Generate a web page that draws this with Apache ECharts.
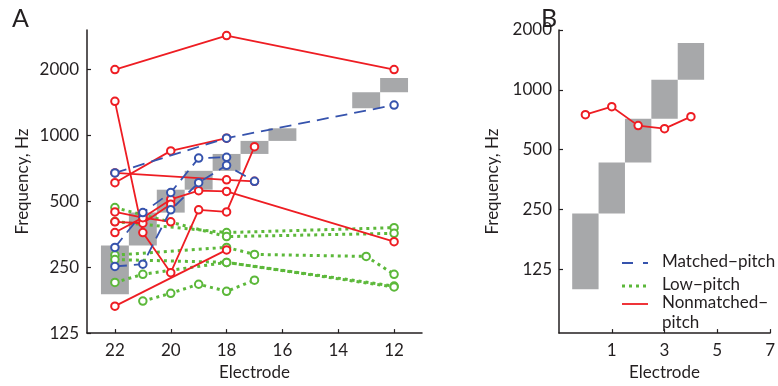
<!DOCTYPE html>
<html>
<head>
<meta charset="utf-8">
<script src="https://cdn.jsdelivr.net/npm/echarts@6/dist/echarts.min.js"></script>
<style>
  html, body { margin: 0; padding: 0; background: #fff; }
  #chart { width: 778px; height: 386px; }
</style>
</head>
<body>
<div id="chart"></div>
<script>
// Panel A: frequency band of each electrode (Hz)
const bandElectrodesA = [22, 21, 20, 19, 18, 17, 16, 13, 12];
const bandLowA  = [188, 314, 444, 565, 689, 823, 944, 1331, 1575];
const bandHighA = [314, 444, 565, 689, 823, 944, 1078, 1575, 1830];

// one entry per subject: [electrode, Hz]
const matchedPitch = [
  [[22, 674], [18, 972], [12, 1376]],
  [[22, 308], [21, 444], [20, 548], [19, 788], [18, 795]],
  [[22, 252], [21, 258], [20, 457], [19, 608], [18, 730], [17, 617]]
];
const lowPitch = [
  [[22, 404], [18, 360], [12, 379]],
  [[22, 468], [18, 345], [12, 357]],
  [[22, 284], [18, 308], [17, 286], [13, 280], [12, 232]],
  [[22, 271], [18, 263], [12, 205]],
  [[21, 175], [20, 190], [19, 209], [18, 194], [17, 218]],
  [[22, 213], [21, 232], [18, 263], [12, 203]]
];
const nonmatchedPitch = [
  [[22, 2000], [18, 2860], [12, 2000]],
  [[22, 608], [20, 850], [18, 972]],
  [[22, 674], [18, 627], [17, 617]],
  [[22, 1431], [21, 360], [20, 236], [19, 457], [18, 447], [17, 888]],
  [[22, 447], [21, 421], [20, 510], [19, 559], [18, 555], [12, 327]],
  [[22, 403], [21, 397], [20, 485]],
  [[22, 360], [21, 421], [20, 403]],
  [[22, 166], [18, 300]]
];

// Panel B
const electrodesB = [0, 1, 2, 3, 4];
const bandLowB  = [99, 238, 430, 715, 1122];
const bandHighB = [238, 430, 715, 1122, 1722];
const nonmatchedB = [749, 822, 660, 637, 732];

const yTicksHz = [125, 250, 500, 1000, 2000];
const xTicksA = [22, 20, 18, 16, 14, 12];

const FONT = 'Lato';
const INK = '#231f20';
const RED = '#ee1d23';
const BLUE = '#3653ad';
const GREEN = '#5cb83a';
const GRAY = '#a7a8aa';

const oct = hz => Math.log2(hz / 125);
const yTicks = yTicksHz.map(oct);

const chart = echarts.init(document.getElementById('chart'));

function bandItem(params, api) {
  const p0 = api.coord([api.value(0) - 0.5, api.value(2)]);
  const p1 = api.coord([api.value(0) + 0.5, api.value(1)]);
  return {
    type: 'rect',
    shape: {
      x: Math.min(p0[0], p1[0]), y: p0[1],
      width: Math.abs(p1[0] - p0[0]), height: p1[1] - p0[1]
    },
    style: { fill: GRAY }
  };
}

const axisBase = {
  axisLine: { onZero: false, lineStyle: { color: INK, width: 1.5 } },
  axisTick: { inside: true, length: 4, lineStyle: { color: INK, width: 1.2 } },
  axisLabel: { color: INK, fontSize: 17, fontFamily: FONT },
  splitLine: { show: false },
  nameTextStyle: { color: INK, fontSize: 17, fontFamily: FONT },
  nameLocation: 'middle'
};

function lineSeries(name, pts, color, lineType, width, xi, z) {
  return {
    name, type: 'line', xAxisIndex: xi, yAxisIndex: xi, z,
    data: pts.map(([e, f]) => [e, oct(f)]),
    symbol: 'emptyCircle', symbolSize: 7.5,
    itemStyle: { color, borderColor: color, borderWidth: 1.8 },
    lineStyle: { color, width, type: lineType, cap: 'butt' },
    emphasis: { disabled: true }, animation: false
  };
}

const series = [
  {
    type: 'custom', xAxisIndex: 0, yAxisIndex: 0, z: 1,
    renderItem: bandItem, encode: { x: 0, y: [1, 2] },
    data: bandElectrodesA.map((e, i) => [e, oct(bandLowA[i]), oct(bandHighA[i])])
  },
  {
    type: 'custom', xAxisIndex: 1, yAxisIndex: 1, z: 1,
    renderItem: bandItem, encode: { x: 0, y: [1, 2] },
    data: electrodesB.map((e, i) => [e, oct(bandLowB[i]), oct(bandHighB[i])])
  }
];
lowPitch.forEach(s => series.push(lineSeries('Low−pitch', s, GREEN, [3, 4], 3, 0, 2)));
nonmatchedPitch.forEach(s => series.push(lineSeries('Nonmatched−pitch', s, RED, 'solid', 1.8, 0, 3)));
matchedPitch.forEach(s => series.push(lineSeries('Matched−pitch', s, BLUE, [12, 7], 1.8, 0, 4)));
series.push(lineSeries('Nonmatched−pitch', electrodesB.map((e, i) => [e, nonmatchedB[i]]), RED, 'solid', 1.8, 1, 3));

const legendRows = [
  { text: 'Matched−pitch', color: BLUE, dash: [11, 10], w: 1.8, y: 263 },
  { text: 'Low−pitch', color: GREEN, dash: [3, 4], w: 3, y: 286 },
  { text: 'Nonmatched−\npitch', color: RED, dash: null, w: 1.8, y: 304 }
];
const graphic = [
  { type: 'text', left: 12, top: 6, style: { text: 'A', fontSize: 25, fontFamily: FONT, fill: INK } },
  { type: 'text', left: 541, top: 6, style: { text: 'B', fontSize: 25, fontFamily: FONT, fill: INK } }
];
legendRows.forEach(r => {
  graphic.push({
    type: 'line', shape: { x1: 622, y1: r.y, x2: 648, y2: r.y },
    style: { stroke: r.color, lineWidth: r.w, lineDash: r.dash }
  });
  graphic.push({
    type: 'text', x: 662, y: r.y - 11,
    style: { text: r.text, fontSize: 17, lineHeight: 20, fontFamily: FONT, fill: INK, verticalAlign: 'top' }
  });
});

chart.setOption({
  backgroundColor: '#fff',
  animation: false,
  grid: [
    { left: 87, top: 30, width: 335, height: 304 },
    { left: 559, top: 30, width: 215, height: 304 }
  ],
  xAxis: [
    Object.assign({}, axisBase, {
      gridIndex: 0, type: 'value', inverse: true, min: 11, max: 23,
      name: 'Electrode', nameGap: 28,
      axisTick: Object.assign({}, axisBase.axisTick, { customValues: xTicksA }),
      axisLabel: Object.assign({}, axisBase.axisLabel, { customValues: xTicksA, margin: 9 })
    }),
    Object.assign({}, axisBase, {
      gridIndex: 1, type: 'value', min: -1, max: 7, interval: 2,
      name: 'Electrode', nameGap: 28,
      axisLabel: Object.assign({}, axisBase.axisLabel, { showMinLabel: false, margin: 9 })
    })
  ],
  yAxis: [
    Object.assign({}, axisBase, {
      gridIndex: 0, type: 'value', min: 0, max: 4.6,
      name: 'Frequency, Hz', nameGap: 56,
      axisTick: Object.assign({}, axisBase.axisTick, { customValues: yTicks }),
      axisLabel: Object.assign({}, axisBase.axisLabel, {
        customValues: yTicks, margin: 8,
        formatter: v => String(Math.round(125 * Math.pow(2, v)))
      })
    }),
    Object.assign({}, axisBase, {
      gridIndex: 1, type: 'value', min: -1.07, max: 4,
      name: 'Frequency, Hz', nameGap: 58,
      axisTick: Object.assign({}, axisBase.axisTick, { customValues: yTicks }),
      axisLabel: Object.assign({}, axisBase.axisLabel, {
        customValues: yTicks, margin: 7,
        formatter: v => String(Math.round(125 * Math.pow(2, v)))
      })
    })
  ],
  graphic,
  series
});
</script>
</body>
</html>
